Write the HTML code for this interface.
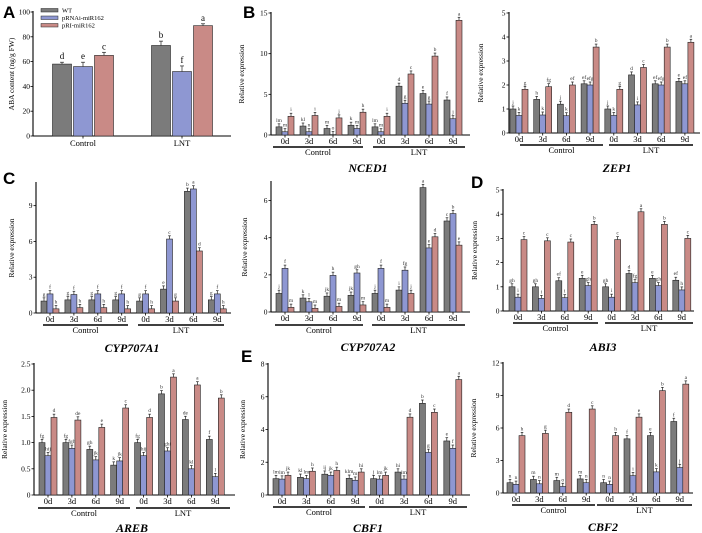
<!DOCTYPE html>
<html><head><meta charset="utf-8">
<style>
html,body{margin:0;padding:0;background:#fff;}
svg{display:block;font-family:"Liberation Serif",serif;}
.pl{font-family:"Liberation Sans",sans-serif;font-weight:bold;font-size:17px;}
</style></head>
<body>
<svg id="fig" width="702" height="533" viewBox="0 0 702 533">
<text class="pl" x="3" y="18">A</text>
<text class="pl" x="243" y="18">B</text>
<text class="pl" x="3" y="184">C</text>
<text class="pl" x="471" y="188">D</text>
<text class="pl" x="241" y="362">E</text>
</svg>
<script>
const groupLabels = ["0d","3d","6d","9d","0d","3d","6d","9d"];
const colors = ["#7b7b7b","#8e97d2","#c98a86"];
const seriesNames = ["WT","pRNAi-miR162","pRI-miR162"];

// Panel A data
const aCats = ["Control","LNT"];
const aWT = [58,73], aRNAi = [56,52], aOE = [65,89];
const aErr = [[1.5,3.5],[3.5,4.5],[2.5,1.5]];
const aLet = [["d","b"],["e","f"],["c","a"]];
const aTicks = [0,20,40,60,80,100];

// Gene panels
const nced1 = [[1,1.1,0.8,1.2,1,6,5.1,4.3],[0.4,0.4,0.05,0.8,0.4,3.9,3.8,2.0],[2.3,2.4,2.1,2.8,2.3,7.5,9.7,14.1]];
const nced1Let = [["lm","kl","m","k","lm","d","e","f"],["m","n","o","m","m","g","g","j"],["i","i","j","h","i","c","b","a"]];
const zep1 = [[1,1.4,1.2,2.05,1,2.42,2.05,2.15],[0.73,0.75,0.72,2.0,0.73,1.17,2.0,2.05],[1.82,1.93,2.0,3.58,1.82,2.73,3.58,3.78]];
const zep1Let = [["j","h","j","ef","j","d","ef","e"],["k","k","k","efg","k","i","efg","ef"],["g","fg","ef","b","g","c","b","a"]];
const cyp1 = [[1,1.1,1.1,1.1,1,2.0,10.2,1.1],[1.6,1.55,1.6,1.6,1.6,6.2,10.4,1.6],[0.35,0.45,0.45,0.35,0.35,1.0,5.2,0.35]];
const cyp1Let = [["g","g","g","g","g","e","b","g"],["f","f","f","f","f","c","a","f"],["h","h","h","h","h","g","d","h"]];
const cyp2 = [[1,0.75,0.85,0.9,1,1.18,6.7,4.9],[2.35,0.55,1.97,2.1,2.35,2.25,3.45,5.3],[0.25,0.2,0.3,0.38,0.25,1.0,4.05,3.6]];
const cyp2Let = [["j","k","jk","jk","j","i","a","c"],["f","l","h","gh","f","fg","e","b"],["m","m","m","m","m","j","d","e"]];
const abi3 = [[1,1,1.25,1.35,1,1.55,1.35,1.27],[0.57,0.52,0.55,1.05,0.57,1.17,1.05,0.87],[2.95,2.9,2.85,3.58,2.95,4.1,3.58,3.0]];
const abi3Let = [["gh","gh","ef","e","gh","d","e","ef"],["i","i","i","gh","i","fg","gh","h"],["c","c","c","b","c","a","b","c"]];
const areb = [[1,1,0.87,0.57,1,1.93,1.44,1.06],[0.75,0.89,0.67,0.65,0.75,0.84,0.5,0.35],[1.48,1.43,1.29,1.66,1.48,2.25,2.1,1.85]];
const arebLet = [["fg","fg","gh","k","fg","b","de","f"],["hij","fgh","jk","jk","hij","ghi","kl","l"],["d","de","e","c","d","a","a","b"]];
const cbf1 = [[1,1.08,1.27,1.02,1,1.4,5.6,3.3],[0.97,1.0,1.2,0.9,0.97,0.97,2.6,2.85],[1.2,1.45,1.5,1.4,1.2,4.75,5.05,7.05]];
const cbf1Let = [["lm","kl","ij","klm","j","hi","b","e"],["lm","lm","jk","m","lm","lm","g","f"],["jk","h","h","hi","jk","d","c","a"]];
const cbf2 = [[0.95,1.25,1.15,1.3,0.95,5.0,5.3,6.6],[0.8,0.85,0.6,0.95,0.8,1.6,1.95,2.35],[5.3,5.5,7.45,7.75,5.3,7.0,9.45,10.05]];
const cbf2Let = [["n","m","m","m","n","f","e","f"],["n","n","o","n","n","i","k","j"],["h","g","d","c","h","e","b","a"]];

const NS="http://www.w3.org/2000/svg";
const svg=document.getElementById('fig');
function mk(tag,attrs,parent,text){const e=document.createElementNS(NS,tag);for(const k in attrs)e.setAttribute(k,attrs[k]);if(text!==undefined)e.textContent=text;(parent||svg).appendChild(e);return e;}

function genePanel(p){
  const g=mk('g',{});
  
  
  const y=v=>p.y0-(v/p.ymax)*(p.y0-p.yTop);
  const xc=i=>p.c0+i*p.sp;
  const bw=p.bw;
  // axes
  const ya=mk('line',{x1:p.ax,y1:p.yTop-1,x2:p.ax,y2:p.y0,stroke:'#000','stroke-width':1.1},g);
  
  
  const xa=mk('line',{x1:p.ax,y1:p.y0,x2:p.axEnd,y2:p.y0,stroke:'#000','stroke-width':1.1},g);
  
  
  p.ticks.forEach(t=>{
    mk('line',{x1:p.ax-2.5,y1:y(t),x2:p.ax,y2:y(t),stroke:'#000','stroke-width':0.8},g);
    const tl=mk('text',{x:p.ax-3.5,y:y(t)+2.5,'font-size':7.5,'text-anchor':'end'},g,p.tickFmt?p.tickFmt(t):t);
    
    
  });
  const yt=mk('text',{x:0,y:0,'font-size':7.5,'text-anchor':'middle',transform:`translate(${p.ytx},${(p.yTop+p.y0)/2}) rotate(-90)`},g,'Relative expression');
  
  
  for(let i=0;i<8;i++){
    const c=xc(i);
    for(let s=0;s<3;s++){
      const v=p.data[s][i];
      const bx=c-1.5*bw+s*bw;
      const r=mk('rect',{x:bx,y:y(v),width:bw,height:Math.max(0.5,p.y0-y(v)),fill:colors[s],stroke:'#222','stroke-width':0.6},g);
      
      
      const e=p.ymax*0.025;
      mk('line',{x1:bx+bw/2,y1:y(v+e),x2:bx+bw/2,y2:y(v),stroke:'#222','stroke-width':0.7},g);
      mk('line',{x1:bx+bw/2-1.3,y1:y(v+e),x2:bx+bw/2+1.3,y2:y(v+e),stroke:'#222','stroke-width':0.7},g);
      const lt=mk('text',{x:bx+bw/2,y:y(v+e)-2,'font-size':5.5,'text-anchor':'middle',fill:'#333'},g,p.letters[s][i]);
      
      
    }
    mk('line',{x1:c,y1:p.y0,x2:c,y2:p.y0+2.5,stroke:'#000','stroke-width':0.8},g);
    const gl=mk('text',{x:c,y:p.labY,'font-size':8.5,'text-anchor':'middle'},g,groupLabels[i]);
    
    
  }
  const l1=mk('line',{x1:p.ctl[0],y1:p.uY,x2:p.ctl[1],y2:p.uY,stroke:'#000','stroke-width':1.6},g);
  
  
  const l2=mk('line',{x1:p.lnt[0],y1:p.uY,x2:p.lnt[1],y2:p.uY,stroke:'#000','stroke-width':1.6},g);
  
  
  const t1=mk('text',{x:(p.ctl[0]+p.ctl[1])/2,y:p.uY+8,'font-size':8.5,'text-anchor':'middle'},g,'Control');
  
  
  const t2=mk('text',{x:(p.lnt[0]+p.lnt[1])/2,y:p.uY+8,'font-size':8.5,'text-anchor':'middle'},g,'LNT');
  
  
  const tt=mk('text',{x:p.titleX,y:p.titleY,'font-size':12,'font-weight':'bold','font-style':'italic','text-anchor':'middle'},g,p.title);
  
  
}

const f1=t=>t.toFixed(1);
genePanel({name:'nced1',title:'NCED1',data:nced1,letters:nced1Let,ax:271,axEnd:470,yTop:13,y0:135,ymax:15,ticks:[0,5,10,15],c0:285,sp:24,bw:6,labY:144,uY:147,ctl:[273,363],lnt:[373,465],titleX:368,titleY:172,ytx:244});
genePanel({name:'zep1',title:'ZEP1',data:zep1,letters:zep1Let,ax:509,axEnd:700,yTop:13,y0:133,ymax:5,ticks:[0,1,2,3,4,5],c0:519,sp:23.7,bw:6,labY:142,uY:145,ctl:[520,603],lnt:[609,693],titleX:617,titleY:172,ytx:483});
genePanel({name:'cyp707a1',title:'CYP707A1',data:cyp1,letters:cyp1Let,ax:36,axEnd:231,yTop:183,y0:313,ymax:10.9,ticks:[0,3,6,9],c0:50,sp:23.9,bw:6,labY:322,uY:325,ctl:[43,128],lnt:[138,224],titleX:132,titleY:352,ytx:14});
genePanel({name:'cyp707a2',title:'CYP707A2',data:cyp2,letters:cyp2Let,ax:271,axEnd:470,yTop:182,y0:312,ymax:7,ticks:[0,2,4,6],c0:285,sp:24,bw:6,labY:321,uY:325,ctl:[275,363],lnt:[372,465],titleX:368,titleY:351,ytx:247});
genePanel({name:'abi3',title:'ABI3',data:abi3,letters:abi3Let,ax:503,axEnd:694,yTop:190,y0:311,ymax:5,ticks:[0,1,2,3,4,5],c0:518,sp:23.4,bw:6,labY:320,uY:323,ctl:[513,598],lnt:[605,693],titleX:603,titleY:351,ytx:477});
genePanel({name:'areb',title:'AREB',data:areb,letters:arebLet,ax:34,axEnd:235,yTop:364,y0:495,ymax:2.5,ticks:[0,0.5,1,1.5,2,2.5],tickFmt:t=>t===0?'0':f1(t),c0:48,sp:23.9,bw:6,labY:504,uY:508,ctl:[38,130],lnt:[136,230],titleX:132,titleY:532,ytx:7});
genePanel({name:'cbf1',title:'CBF1',data:cbf1,letters:cbf1Let,ax:268,axEnd:470,yTop:364,y0:495,ymax:8,ticks:[0,2,4,6,8],c0:282,sp:24.4,bw:6,labY:504,uY:507,ctl:[273,365],lnt:[369,467],titleX:368,titleY:532,ytx:245});
genePanel({name:'cbf2',title:'CBF2',data:cbf2,letters:cbf2Let,ax:503,axEnd:693,yTop:363,y0:493,ymax:12,ticks:[0,3,6,9,12],c0:516,sp:23.4,bw:6,labY:502,uY:505,ctl:[512,595],lnt:[597,692],titleX:603,titleY:531,ytx:476});

// Panel A
(function(){
  const ax=33,axEnd=231,yTop=12,y0=136,ymax=100;
  const y=v=>y0-(v/ymax)*(y0-yTop);
  const centers=[83,182], bw=19, gap=2;
  const g=mk('g',{});
  
  
  mk('line',{x1:ax,y1:yTop-1,x2:ax,y2:y0,stroke:'#000','stroke-width':1.1},g);
  mk('line',{x1:ax,y1:y0,x2:axEnd,y2:y0,stroke:'#000','stroke-width':1.1},g);
  aTicks.forEach(t=>{
    mk('line',{x1:ax-2.5,y1:y(t),x2:ax,y2:y(t),stroke:'#000','stroke-width':0.8},g);
    const tl=mk('text',{x:ax-3,y:y(t)+2.5,'font-size':7.5,'text-anchor':'end'},g,t);
    
    
  });
  const yt=mk('text',{'font-size':7.5,'text-anchor':'middle',transform:`translate(14,${(yTop+y0)/2}) rotate(-90)`},g,'ABA content (ng/g FW)');
  
  
  const series=[aWT,aRNAi,aOE];
  aCats.forEach((cat,i)=>{
    series.forEach((arr,s)=>{
      const v=arr[i];
      const bx=centers[i]-1.5*bw-gap+s*(bw+gap);
      const r=mk('rect',{x:bx,y:y(v),width:bw,height:y0-y(v),fill:colors[s],stroke:'#222','stroke-width':0.6},g);
      
      
      const e=aErr[s][i];
      mk('line',{x1:bx+bw/2,y1:y(v+e),x2:bx+bw/2,y2:y(v),stroke:'#222','stroke-width':0.7},g);
      mk('line',{x1:bx+bw/2-2,y1:y(v+e),x2:bx+bw/2+2,y2:y(v+e),stroke:'#222','stroke-width':0.7},g);
      const lt=mk('text',{x:bx+bw/2,y:y(v+e)-3,'font-size':9,'text-anchor':'middle'},g,aLet[s][i]);
      
      
    });
    mk('line',{x1:centers[i],y1:y0,x2:centers[i],y2:y0+2.5,stroke:'#000','stroke-width':0.8},g);
    const cl=mk('text',{x:centers[i],y:y0+10,'font-size':8.5,'text-anchor':'middle'},g,cat);
    
    
  });
  seriesNames.forEach((n,s)=>{
    const ly=10+s*7.5;
    const lr=mk('rect',{x:41,y:ly-1.5,width:17,height:3.5,fill:colors[s],stroke:'#222','stroke-width':0.5},g);
    
    
    const lt=mk('text',{x:62,y:ly+2.5,'font-size':6.5},g,n);
    
    
  });
})();
</script>
</body></html>
